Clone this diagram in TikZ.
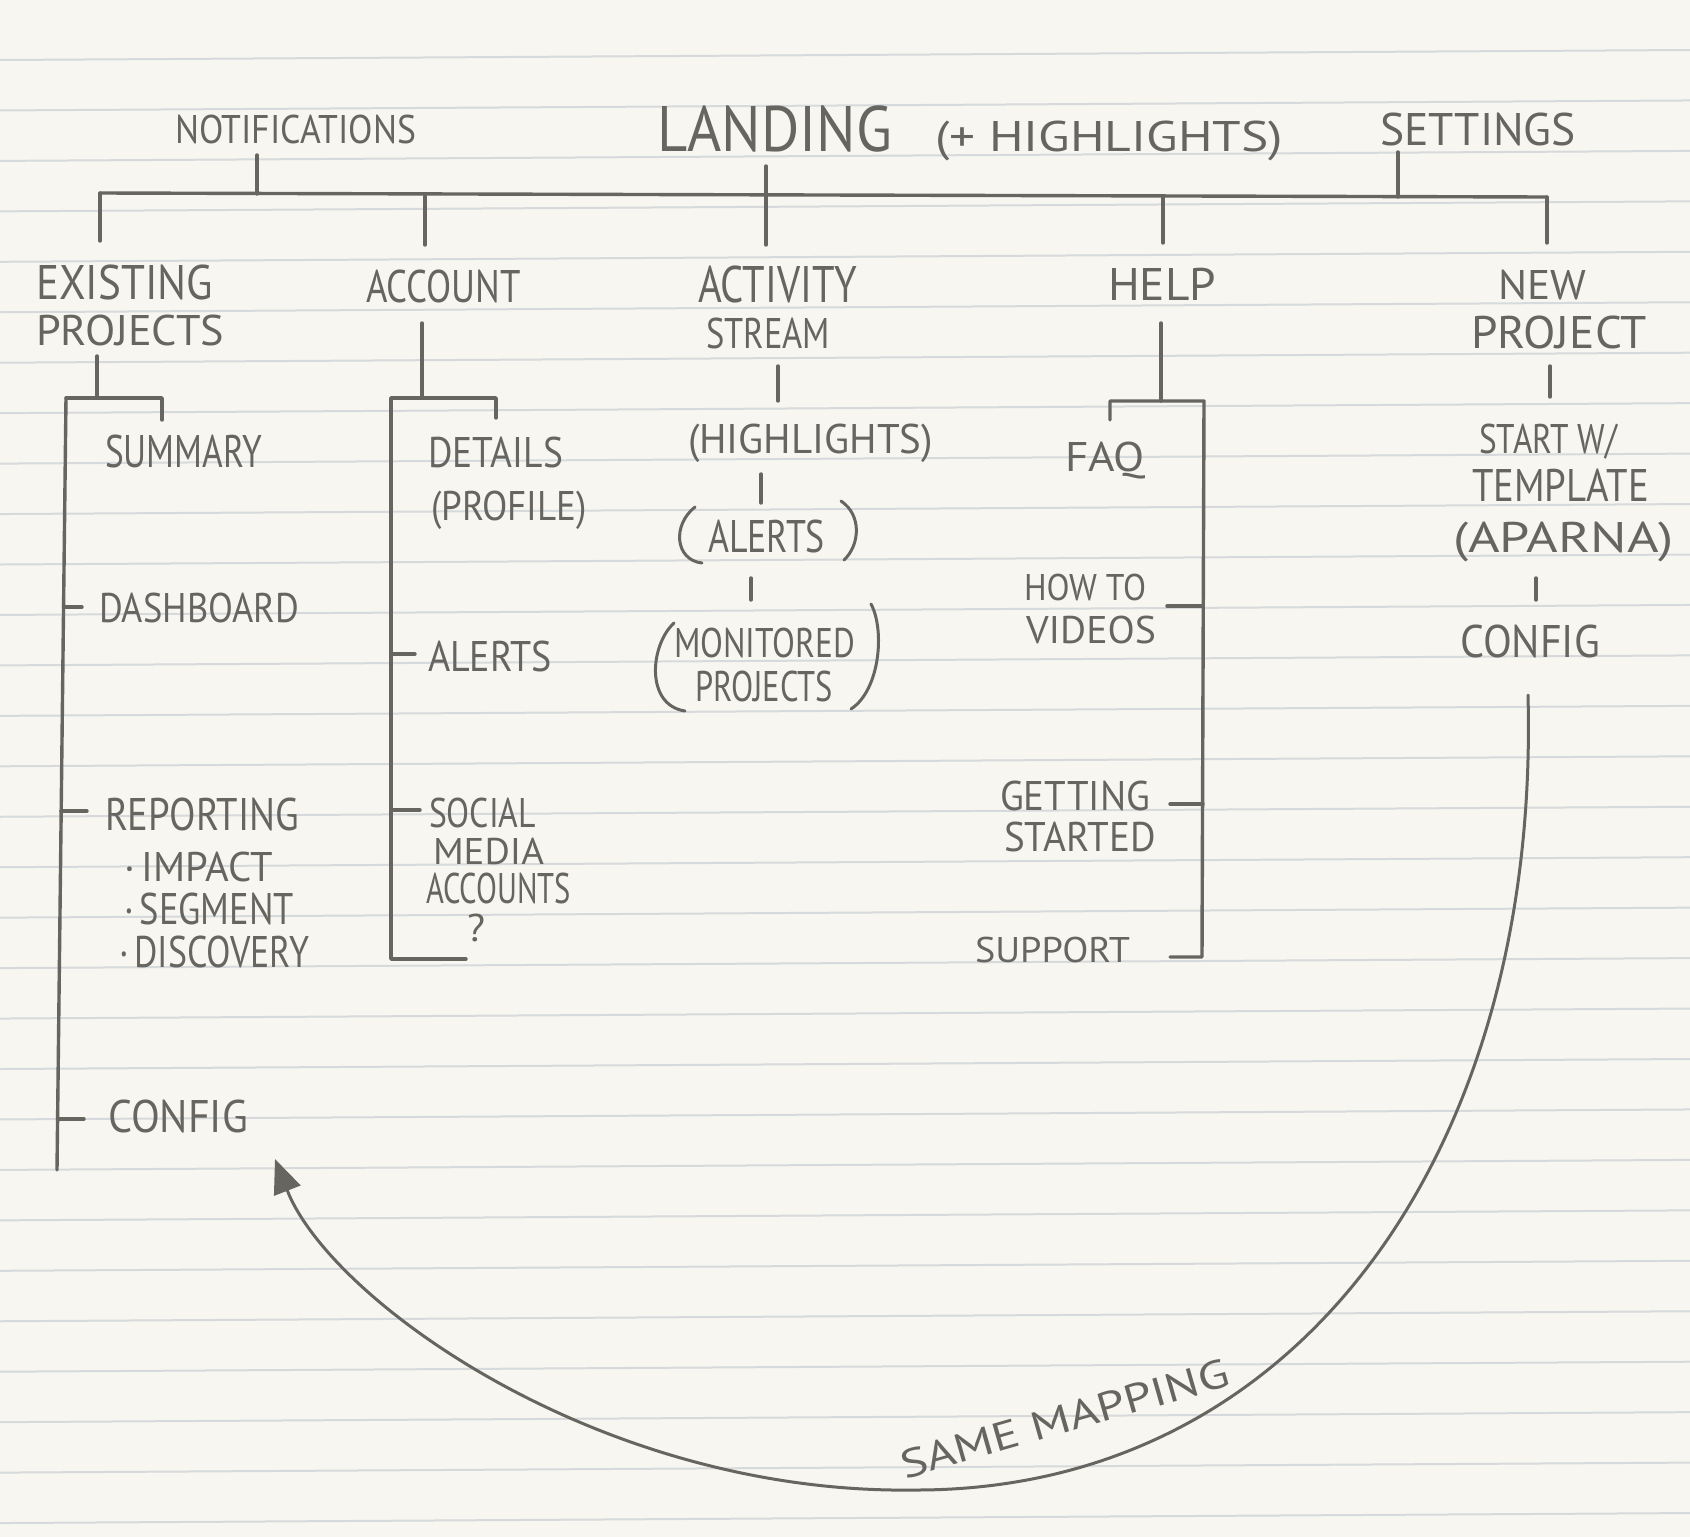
\documentclass[tikz,border=0pt]{standalone}
\usepackage{fontspec}
\usepackage{graphicx}
\setmainfont{PT Sans}
\usetikzlibrary{arrows.meta}
\definecolor{paper}{HTML}{F8F6F1}
\definecolor{rulec}{HTML}{D6DADD}
\definecolor{inkc}{HTML}{66655F}
\newcommand\hw[3]{\resizebox{#1pt}{#2pt}{\smash{#3}\vphantom{H}}}
\tikzset{
  ink/.style={draw=inkc, line width=3.4pt, line cap=round, line join=round},
  arcline/.style={draw=inkc, line width=3pt, line cap=round},
  lbl/.style={anchor=base west, inner sep=0pt, outer sep=0pt, text=inkc, font=\fontsize{42}{48}\selectfont},
  rule/.style={draw=rulec, line width=2pt},
}
\begin{document}
\begin{tikzpicture}[x=1pt,y=-1pt]
\useasboundingbox (0,0) rectangle (1690,1537);
\fill[paper] (0,0) rectangle (1690,1537);
\foreach \k in {0,...,29} \draw[rule] (0,{60+50.45*\k}) -- (1690,{50+50.45*\k});

% ---------- labels ----------
\node[lbl] (notif) at (175,143) {\hw{241}{28}{NOTIFICATIONS}};
\node[lbl] (landing) at (657,151) {\hw{235}{45}{LANDING}};
\node[lbl] (landhl) at (935,151) {\hw{348}{30}{(+ HIGHLIGHTS)}};
\node[lbl] (settings) at (1380,145) {\hw{196}{32}{SETTINGS}};

\node[lbl] (exist1) at (36,299) {\hw{177}{34}{EXISTING}};
\node[lbl] (exist2) at (36,345) {\hw{188}{30}{PROJECTS}};
\node[lbl] (account) at (366,302) {\hw{155}{32}{ACCOUNT}};
\node[lbl] (act1) at (698,302) {\hw{159}{36}{ACTIVITY}};
\node[lbl] (act2) at (706,348) {\hw{124}{30}{STREAM}};
\node[lbl] (help) at (1108,300) {\hw{108}{32}{HELP}};
\node[lbl] (new1) at (1498,299) {\hw{88}{29}{NEW}};
\node[lbl] (new2) at (1471,348) {\hw{176}{32}{PROJECT}};

\node[lbl] (summary) at (105,467) {\hw{157}{32}{SUMMARY}};
\node[lbl] (dashboard) at (99,622) {\hw{200}{29}{DASHBOARD}};
\node[lbl] (reporting) at (105,830) {\hw{194}{32}{REPORTING}};
\node[lbl] (impact) at (124,881) {\hw{149}{29}{·\,IMPACT}};
\node[lbl] (segment) at (124,924) {\hw{170}{31}{·\,SEGMENT}};
\node[lbl] (discovery) at (119,967) {\hw{190}{31}{·\,DISCOVERY}};
\node[lbl] (epconfig) at (108,1132) {\hw{140}{32}{CONFIG}};

\node[lbl] (details) at (428,467) {\hw{135}{30}{DETAILS}};
\node[lbl] (profile) at (431,520) {\hw{156}{29}{(PROFILE)}};
\node[lbl] (accalerts) at (428,671) {\hw{124}{30}{ALERTS}};
\node[lbl] (social) at (429,827) {\hw{107}{29}{SOCIAL}};
\node[lbl] (media) at (433,864) {\hw{111}{26}{MEDIA}};
\node[lbl] (accounts) at (426,903) {\hw{145}{30}{ACCOUNTS}};
\node[lbl] (qmark) at (467,941) {\hw{18}{27}{?}};

\node[lbl] (hl) at (688,453) {\hw{245}{29}{(HIGHLIGHTS)}};
\node[lbl] (asalerts) at (708,552) {\hw{117}{32}{ALERTS}};
\node[lbl] (monitored) at (674,657) {\hw{181}{29}{MONITORED}};
\node[lbl] (monproj) at (695,701) {\hw{138}{30}{PROJECTS}};

\node[lbl] (faq) at (1065,471) {\hw{80}{29}{FAQ}};
\node[lbl] (howto) at (1024,600) {\hw{122}{26}{HOW TO}};
\node[lbl] (videos) at (1026,643) {\hw{130}{27}{VIDEOS}};
\node[lbl] (getting) at (1000,810) {\hw{150}{29}{GETTING}};
\node[lbl] (started) at (1004,851) {\hw{152}{29}{STARTED}};
\node[lbl] (support) at (975,962) {\hw{155}{25}{SUPPORT}};

\node[lbl] (startw) at (1479,453) {\hw{138}{29}{START W/}};
\node[lbl] (template) at (1472,501) {\hw{177}{32}{TEMPLATE}};
\node[lbl] (aparna) at (1453,552) {\hw{221}{30}{(APARNA)}};
\node[lbl] (npconfig) at (1460,657) {\hw{140}{32}{CONFIG}};

\node[lbl, rotate=16] (same) at (905,1479) {\hw{340}{28}{SAME MAPPING}};

% ---------- top level tree ----------
\coordinate (barL) at (100,193);
\coordinate (barR) at (1547,197);
\draw[ink] (barL) -- (barR);
\draw[ink] (barL) -- (100,241);
\draw[ink] (257,155) -- (257,194);
\draw[ink] (425,196) -- (425,245);
\draw[ink] (766,166) -- (766,245);
\draw[ink] (1163,197) -- (1163,243);
\draw[ink] (1398,152) -- (1398,197);
\draw[ink] (barR) -- (1547,243);

% ---------- existing projects ----------
\coordinate (epTop) at (66,398);
\coordinate (epBot) at (57,1170);
\draw[ink] (97,356) -- (97,398);
\draw[ink] (epTop) -- (162,398) -- (162,420);
\draw[ink] (epTop) -- (epBot);
\draw[ink] (63.5,607) -- (82,607);
\draw[ink] (61,811) -- (87,811);
\draw[ink] (57.5,1119) -- (84,1119);

% ---------- account ----------
\draw[ink] (422,323) -- (422,398);
\draw[ink] (496,418) -- (496,398) -- (391,398) -- (391,959) -- (466,959);
\draw[ink] (391,654) -- (415,654);
\draw[ink] (391,810) -- (420,810);

% ---------- activity stream ----------
\draw[ink] (778,366) -- (778,401);
\draw[ink] (761,474) -- (761,503);
\draw[ink] (751,578) -- (751,600);
\draw[arcline] (695,507) .. controls (672,525) and (675,560) .. (702,563);
\draw[arcline] (841,501) .. controls (862,515) and (860,545) .. (844,560);
\draw[arcline] (674,623) .. controls (650,645) and (645,705) .. (685,711);
\draw[arcline] (871,604) .. controls (885,630) and (880,690) .. (851,709);

% ---------- help ----------
\draw[ink] (1161,323) -- (1161,401);
\draw[ink] (1110,420) -- (1110,401) -- (1204,401) -- (1202,957) -- (1170,957);
\draw[ink] (1167,606) -- (1203,606);
\draw[ink] (1170,804) -- (1203,804);

% ---------- new project ----------
\draw[ink] (1550,366) -- (1550,397);
\draw[ink] (1536,578) -- (1536,600);

% ---------- same mapping arc ----------
\coordinate (arcS) at (1528,695);
\coordinate (arcM) at (916,1490);
\coordinate (arcE) at (275,1159);
\draw[arcline, -{Triangle[length=34pt,width=28pt]}] (arcS) .. controls (1540,1150) and (1300,1490) .. (arcM) .. controls (600,1495) and (330,1300) .. (arcE);
\end{tikzpicture}
\end{document}
